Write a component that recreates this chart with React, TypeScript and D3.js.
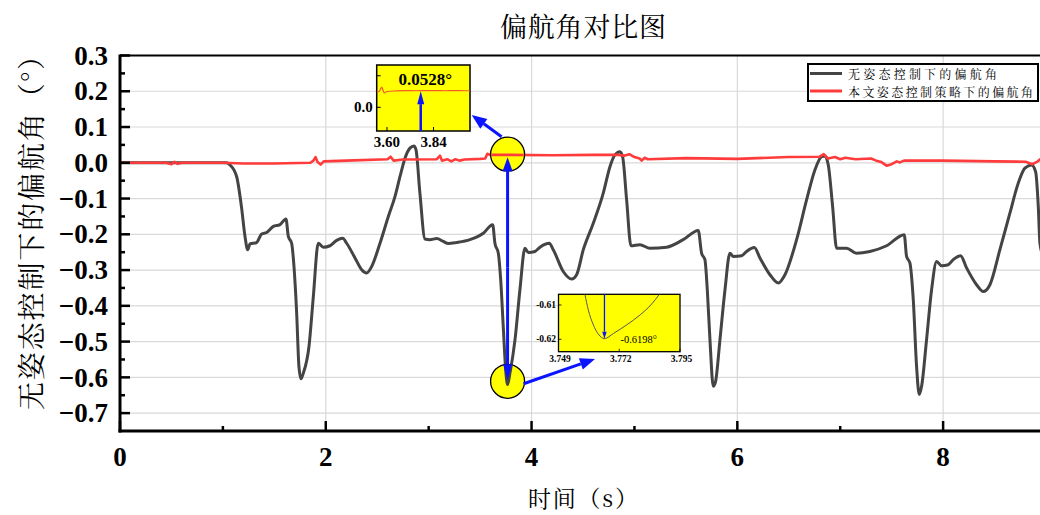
import React from 'react';
import * as d3 from 'd3';

const W = 1040;
const H = 515;
const PLOT = { left: 120, right: 1046, top: 55.5, bottom: 431 };

const title = '偏航角对比图';
const xLabel = '时间（s）';
const yLabel = '无姿态控制下的偏航角（°）';
const seriesNames = ['无姿态控制下的偏航角', '本文姿态控制策略下的偏航角'];

const xMajorTicks = [0, 2, 4, 6, 8];
const xMinorTicks = [1, 3, 5, 7];
const yMajorTicks = [0.3, 0.2, 0.1, 0.0, -0.1, -0.2, -0.3, -0.4, -0.5, -0.6, -0.7];
const yMinorTicks = [0.25, 0.15, 0.05, -0.05, -0.15, -0.25, -0.35, -0.45, -0.55, -0.65];

// 无姿态控制下的偏航角
const noControlT = [0, 1.037, 1.069, 1.134, 1.18, 1.215, 1.241, 1.263, 1.328, 1.377, 1.425, 1.49, 1.555, 1.613, 1.636, 1.668, 1.691, 1.717, 1.739, 1.759, 1.782, 1.837, 1.879, 1.927, 1.976, 2.041, 2.106, 2.164, 2.203, 2.284, 2.349, 2.397, 2.446, 2.527, 2.608, 2.673, 2.721, 2.77, 2.818, 2.857, 2.877, 2.915, 2.964, 3.013, 3.078, 3.142, 3.191, 3.272, 3.401, 3.531, 3.622, 3.644, 3.677, 3.7, 3.725, 3.751, 3.767, 3.79, 3.839, 3.887, 3.936, 3.968, 4.033, 4.082, 4.172, 4.211, 4.308, 4.39, 4.438, 4.503, 4.6, 4.697, 4.762, 4.81, 4.859, 4.885, 4.924, 4.966, 5.053, 5.151, 5.313, 5.474, 5.62, 5.653, 5.685, 5.708, 5.734, 5.766, 5.789, 5.831, 5.88, 5.928, 5.961, 6.042, 6.09, 6.165, 6.22, 6.317, 6.398, 6.463, 6.576, 6.673, 6.754, 6.819, 6.851, 6.884, 6.926, 6.965, 7.062, 7.159, 7.289, 7.451, 7.622, 7.645, 7.677, 7.71, 7.742, 7.768, 7.791, 7.839, 7.888, 7.937, 7.985, 8.05, 8.098, 8.17, 8.228, 8.325, 8.39, 8.455, 8.552, 8.649, 8.73, 8.795, 8.86, 8.899, 8.925, 8.941, 8.97];
const noControlV = [0, 0, -0.006, -0.039, -0.122, -0.206, -0.243, -0.227, -0.223, -0.199, -0.195, -0.178, -0.173, -0.157, -0.206, -0.225, -0.29, -0.42, -0.569, -0.604, -0.588, -0.513, -0.374, -0.225, -0.236, -0.232, -0.217, -0.211, -0.225, -0.266, -0.299, -0.308, -0.29, -0.225, -0.15, -0.094, -0.039, 0.013, 0.041, 0.047, 0.036, -0.085, -0.213, -0.215, -0.212, -0.22, -0.226, -0.223, -0.215, -0.197, -0.173, -0.225, -0.253, -0.327, -0.458, -0.588, -0.6198, -0.588, -0.495, -0.355, -0.239, -0.251, -0.248, -0.236, -0.225, -0.243, -0.304, -0.325, -0.313, -0.243, -0.169, -0.085, -0.011, 0.022, 0.031, 0.017, -0.104, -0.232, -0.229, -0.239, -0.236, -0.215, -0.189, -0.253, -0.271, -0.355, -0.495, -0.625, -0.611, -0.495, -0.355, -0.253, -0.262, -0.26, -0.248, -0.237, -0.266, -0.313, -0.336, -0.313, -0.215, -0.104, -0.02, 0.017, 0.019, -0.006, -0.122, -0.239, -0.239, -0.253, -0.248, -0.232, -0.201, -0.262, -0.28, -0.383, -0.569, -0.648, -0.625, -0.495, -0.355, -0.276, -0.288, -0.285, -0.271, -0.26, -0.294, -0.341, -0.36, -0.341, -0.243, -0.141, -0.057, -0.015, -0.006, -0.025, -0.122, -0.225, -0.26];

// 本文姿态控制策略下的偏航角
const controlT = [0, 0.45, 0.5, 0.53, 0.56, 0.6, 1.0, 1.2, 1.5, 1.85, 1.88, 1.9, 1.92, 1.95, 1.98, 2.2, 2.6, 2.63, 2.66, 2.75, 3.08, 3.11, 3.13, 3.18, 3.22, 3.26, 3.3, 3.35, 3.5, 3.55, 3.57, 3.6, 3.8, 4.2, 4.6, 4.85, 4.9, 4.95, 5.0, 5.05, 5.07, 5.1, 5.13, 5.5, 6.0, 6.5, 6.8, 6.84, 6.88, 6.95, 7.0, 7.05, 7.15, 7.3, 7.35, 7.4, 7.45, 7.5, 7.55, 7.58, 7.62, 8.0, 8.5, 8.8, 8.87, 8.92, 8.96, 9.0];
const controlV = [0, 0, -0.004, 0.003, -0.003, 0, 0, -0.002, -0.002, 0, 0.006, 0.016, 0.002, -0.005, 0.004, 0.006, 0.01, 0.017, 0.006, 0.009, 0.01, 0.02, 0.006, 0.01, 0.004, 0.01, 0.006, 0.009, 0.011, 0.012, 0.025, 0.022, 0.022, 0.021, 0.022, 0.022, 0.02, 0.024, 0.016, 0.012, 0.006, 0.014, 0.01, 0.013, 0.011, 0.016, 0.017, 0.024, 0.012, 0.016, 0.01, 0.014, 0.01, 0.012, 0.006, 0.002, -0.008, -0.004, 0.004, 0.001, 0.006, 0.006, 0.004, 0.003, -0.004, 0.004, 0.014, 0.02];

// inset 1 (controlled curve, zoomed)
const inset1T = [3.547, 3.56, 3.567, 3.573, 3.579, 3.586, 3.6, 3.65, 3.7, 3.75, 3.8, 3.85, 3.9, 3.95, 4.0, 4.028];
const inset1V = [0.049, 0.05, 0.058, 0.064, 0.055, 0.046, 0.05, 0.052, 0.053, 0.0525, 0.0528, 0.053, 0.0525, 0.053, 0.0525, 0.0525];
const inset1XTicks = [3.6, 3.84];
const inset1YTicks = [0.0, 0.1];
const inset1XLabels = ['3.60', '3.84'];
const inset1YLabels = ['0.0', ''];
const inset1Peak = { t: 3.774, v: 0.0528, label: '0.0528°' };

// inset 2 (uncontrolled minimum, zoomed)
const inset2T = [3.759, 3.7603, 3.7622, 3.7641, 3.7664, 3.7698, 3.7748, 3.7799, 3.7843, 3.7872];
const inset2V = [-0.6069, -0.6115, -0.6158, -0.6185, -0.6198, -0.6183, -0.6158, -0.6129, -0.6097, -0.6069];
const inset2XTicks = [3.749, 3.772, 3.795];
const inset2YTicks = [-0.61, -0.62];
const inset2Min = { t: 3.7664, v: -0.6198, label: '-0.6198°' };

// highlighted points on main chart
const markTop = { t: 3.767, v: 0.024 };
const markBottom = { t: 3.767, v: -0.611 };

const SERIF = '"Liberation Serif", "Times New Roman", serif';
const CJK = '"Noto Serif CJK SC", "Noto Sans CJK SC", sans-serif';
const BLUE = '#0a14ff';
const BLACK_LINE = '#444444';
const RED_LINE = '#ff3b3b';

function arrow(x1: number, y1: number, x2: number, y2: number, headLen: number, headHalf: number) {
  const dx = x2 - x1, dy = y2 - y1;
  const L = Math.hypot(dx, dy);
  const ux = dx / L, uy = dy / L;
  const bx = x2 - ux * headLen, by = y2 - uy * headLen;
  const px = -uy, py = ux;
  const head = `${x2},${y2} ${bx + px * headHalf},${by + py * headHalf} ${bx - px * headHalf},${by - py * headHalf}`;
  return { x1, y1, bx, by, head };
}

export default function App() {
  const x = d3.scaleLinear().domain([0, 9]).range([PLOT.left, PLOT.right]);
  const y = d3.scaleLinear().domain([-0.75, 0.3]).range([PLOT.bottom, PLOT.top]);
  const fmt = d3.format('.1f');

  const noControl = noControlT.map((t, i) => [t, noControlV[i]] as [number, number]);
  const control = controlT.map((t, i) => [t, controlV[i]] as [number, number]);

  const blackLine = d3.line<[number, number]>().x(d => x(d[0])).y(d => y(d[1])).curve(d3.curveMonotoneX);
  const redLine = d3.line<[number, number]>().x(d => x(d[0])).y(d => y(d[1]));

  // inset 1
  const i1 = { left: 376.7, right: 470, top: 65, bottom: 131 };
  const ix1 = d3.scaleLinear().domain([3.547, 4.028]).range([i1.left, i1.right]);
  const iy1 = d3.scaleLinear().domain([-0.075, 0.134]).range([i1.bottom, i1.top]);
  const inset1 = inset1T.map((t, i) => [t, inset1V[i]] as [number, number]);
  const inset1Line = d3.line<[number, number]>().x(d => ix1(d[0])).y(d => iy1(d[1])).curve(d3.curveMonotoneX);

  // inset 2
  const i2 = { left: 558.5, right: 680, top: 294.3, bottom: 351.7 };
  const ix2 = d3.scaleLinear().domain([3.749, 3.795]).range([i2.left, i2.right]);
  const iy2 = d3.scaleLinear().domain([-0.6236, -0.6069]).range([i2.bottom, i2.top]);
  const inset2 = inset2T.map((t, i) => [t, inset2V[i]] as [number, number]);
  const inset2Line = d3.line<[number, number]>().x(d => ix2(d[0])).y(d => iy2(d[1])).curve(d3.curveMonotoneX);

  const cTop = { x: x(markTop.t), y: y(markTop.v) };
  const cBot = { x: x(markBottom.t), y: y(markBottom.v) };

  const aUp = arrow(cTop.x, (cTop.y + cBot.y) / 2, cTop.x, cTop.y + 3, 14, 5);
  const aDown = arrow(cBot.x, (cTop.y + cBot.y) / 2, cBot.x, cBot.y - 1, 16, 4.5);
  const a1 = arrow(cTop.x - 6, cTop.y - 17.5, i1.right + 1.7, i1.top + 50, 15, 6);
  const a2 = arrow(cBot.x + 16, cBot.y + 2.5, i2.left + 36.5, i2.bottom + 7.3, 15, 6);
  const aIn1 = arrow(ix1(inset1Peak.t), i1.bottom, ix1(inset1Peak.t), iy1(inset1Peak.v) + 0.5, 13, 3.5);
  const aIn2 = arrow(ix2(inset2Min.t), i2.top, ix2(inset2Min.t), iy2(inset2Min.v), 7, 2.2);

  return (
    <svg width={W} height={H} viewBox={`0 0 ${W} ${H}`}
      style={{ position: 'absolute', left: 0, top: 0, display: 'block', background: '#fff' }}>
      <defs>
        <clipPath id="plotClip">
          <rect x={PLOT.left} y={PLOT.top} width={PLOT.right - PLOT.left} height={PLOT.bottom - PLOT.top} />
        </clipPath>
        <clipPath id="in1Clip">
          <rect x={i1.left} y={i1.top} width={i1.right - i1.left} height={i1.bottom - i1.top} />
        </clipPath>
        <clipPath id="in2Clip">
          <rect x={i2.left} y={i2.top} width={i2.right - i2.left} height={i2.bottom - i2.top} />
        </clipPath>
        <clipPath id="circClip">
          <circle cx={cTop.x} cy={cTop.y} r={16.3} />
          <circle cx={cBot.x} cy={cBot.y} r={16.3} />
        </clipPath>
      </defs>
      <rect x={0} y={0} width={W} height={H} fill="#fff" />

      {/* title */}
      <text x={(PLOT.left + PLOT.right) / 2} y={25} textAnchor="middle" dominantBaseline="central"
        fontFamily={CJK} fontSize={27} textLength={166} lengthAdjust="spacing" fill="#000">{title}</text>

      {/* grid */}
      <g stroke="#d9d9d9" strokeWidth={1.2}>
        {yMajorTicks.filter(v => v < 0.3).map(v => (
          <line key={'gy' + v} x1={PLOT.left} x2={PLOT.right} y1={y(v)} y2={y(v)} />
        ))}
        {xMajorTicks.filter(v => v > 0).map(v => (
          <line key={'gx' + v} x1={x(v)} x2={x(v)} y1={PLOT.top} y2={PLOT.bottom} />
        ))}
      </g>

      {/* series */}
      <g clipPath="url(#plotClip)">
        <path d={blackLine(noControl) || ''} fill="none" stroke={BLACK_LINE} strokeWidth={3} strokeLinejoin="round" />
        <path d={redLine(control) || ''} fill="none" stroke={RED_LINE} strokeWidth={2.6} strokeLinejoin="round" />
      </g>

      {/* axes frame */}
      <line x1={PLOT.left} x2={PLOT.right} y1={PLOT.top} y2={PLOT.top} stroke="#000" strokeWidth={2} />
      <line x1={PLOT.left} x2={PLOT.left} y1={PLOT.top - 1} y2={PLOT.bottom + 1.5} stroke="#000" strokeWidth={3} />
      <line x1={PLOT.left - 1.5} x2={PLOT.right} y1={PLOT.bottom} y2={PLOT.bottom} stroke="#000" strokeWidth={3} />

      {/* ticks */}
      <g stroke="#000" strokeWidth={2.5}>
        {yMajorTicks.map(v => (
          <line key={'ty' + v} x1={PLOT.left} x2={PLOT.left + 10} y1={y(v)} y2={y(v)} />
        ))}
        {yMinorTicks.map(v => (
          <line key={'tym' + v} x1={PLOT.left} x2={PLOT.left + 5} y1={y(v)} y2={y(v)} />
        ))}
        {xMajorTicks.map(v => (
          <line key={'tx' + v} x1={x(v)} x2={x(v)} y1={PLOT.bottom} y2={PLOT.bottom - 10} />
        ))}
        {xMinorTicks.map(v => (
          <line key={'txm' + v} x1={x(v)} x2={x(v)} y1={PLOT.bottom} y2={PLOT.bottom - 5} />
        ))}
      </g>
      <g fontFamily={SERIF} fontWeight="bold" fontSize={27} fill="#000">
        {yMajorTicks.map(v => (
          <text key={'ly' + v} x={108} y={y(v)} dy="0.34em" textAnchor="end">{fmt(v)}</text>
        ))}
        {xMajorTicks.map(v => (
          <text key={'lx' + v} x={x(v)} y={457} dy="0.34em" textAnchor="middle">{String(v)}</text>
        ))}
      </g>

      {/* axis titles */}
      <text x={(PLOT.left + PLOT.right) / 2} y={497} textAnchor="middle" dominantBaseline="central"
        fontFamily={CJK} fontSize={23} textLength={110} lengthAdjust="spacing" fill="#000">{xLabel}</text>
      <text transform={`translate(30,226) rotate(-90)`} textAnchor="middle" dominantBaseline="central"
        fontFamily={CJK} fontSize={28} textLength={368} lengthAdjust="spacing" fill="#000">{yLabel}</text>

      {/* legend */}
      <g>
        <rect x={808} y={64} width={230} height={37} fill="#fff" stroke="#000" strokeWidth={2} />
        <line x1={810} x2={842} y1={73.5} y2={73.5} stroke={BLACK_LINE} strokeWidth={3} />
        <line x1={810} x2={842} y1={91} y2={91} stroke={RED_LINE} strokeWidth={3} />
        <text x={848} y={73.5} dominantBaseline="central" fontFamily={CJK} fontSize={12} textLength={149} lengthAdjust="spacing" fill="#000">{seriesNames[0]}</text>
        <text x={848} y={91} dominantBaseline="central" fontFamily={CJK} fontSize={12} textLength={185} lengthAdjust="spacing" fill="#000">{seriesNames[1]}</text>
      </g>

      {/* marked circles */}
      <circle cx={cTop.x} cy={cTop.y} r={17} fill="#ffff00" stroke="#000" strokeWidth={1.3} />
      <circle cx={cBot.x} cy={cBot.y} r={17} fill="#ffff00" stroke="#000" strokeWidth={1.3} />
      <g clipPath="url(#plotClip)">
        <g clipPath="url(#circClip)">
          <path d={blackLine(noControl) || ''} fill="none" stroke={BLACK_LINE} strokeWidth={3} />
          <path d={redLine(control) || ''} fill="none" stroke={RED_LINE} strokeWidth={2.6} />
        </g>
      </g>

      {/* blue arrows */}
      <g stroke={BLUE} fill={BLUE}>
        <line x1={aUp.x1} y1={aUp.y1} x2={aUp.bx} y2={aUp.by} strokeWidth={3} />
        <polygon points={aUp.head} stroke="none" />
        <line x1={aDown.x1} y1={aDown.y1} x2={aDown.bx} y2={aDown.by} strokeWidth={3} />
        <polygon points={aDown.head} stroke="none" />
        <line x1={a1.x1} y1={a1.y1} x2={a1.bx} y2={a1.by} strokeWidth={3} />
        <polygon points={a1.head} stroke="none" />
        <line x1={a2.x1} y1={a2.y1} x2={a2.bx} y2={a2.by} strokeWidth={3} />
        <polygon points={a2.head} stroke="none" />
      </g>

      {/* inset 1 */}
      <g>
        <rect x={i1.left} y={i1.top} width={i1.right - i1.left} height={i1.bottom - i1.top} fill="#ffff00" stroke="#000" strokeWidth={1.5} />
        <g stroke="#000" strokeWidth={1}>
          {inset1XTicks.map(v => (
            <line key={'i1x' + v} x1={ix1(v)} x2={ix1(v)} y1={i1.bottom} y2={i1.bottom - 4} />
          ))}
          {inset1YTicks.map(v => (
            <line key={'i1y' + v} x1={i1.left} x2={i1.left + 4} y1={iy1(v)} y2={iy1(v)} />
          ))}
        </g>
        <path d={inset1Line(inset1) || ''} clipPath="url(#in1Clip)" fill="none" stroke="#f25a2a" strokeWidth={1.2} />
        <line x1={aIn1.x1} y1={aIn1.y1} x2={aIn1.bx} y2={aIn1.by} stroke={BLUE} strokeWidth={2.5} />
        <polygon points={aIn1.head} fill={BLUE} />
        <text x={(i1.left + i1.right) / 2 + 2} y={79} textAnchor="middle" dominantBaseline="central"
          fontFamily={SERIF} fontWeight="bold" fontSize={17} fill="#000">{inset1Peak.label}</text>
        <g fontFamily={SERIF} fontWeight="bold" fontSize={15} fill="#000">
          {inset1XTicks.map((v, i) => (
            <text key={'i1lx' + v} x={ix1(v)} y={142} textAnchor="middle" dominantBaseline="central">{inset1XLabels[i]}</text>
          ))}
          {inset1YTicks.map((v, i) => inset1YLabels[i] ? (
            <text key={'i1ly' + v} x={i1.left - 4} y={iy1(v)} textAnchor="end" dominantBaseline="central">{inset1YLabels[i]}</text>
          ) : null)}
        </g>
      </g>

      {/* inset 2 */}
      <g>
        <rect x={i2.left} y={i2.top} width={i2.right - i2.left} height={i2.bottom - i2.top} fill="#ffff00" stroke="#000" strokeWidth={1.3} />
        <g stroke="#000" strokeWidth={0.8}>
          {inset2XTicks.map(v => (
            <line key={'i2x' + v} x1={ix2(v)} x2={ix2(v)} y1={i2.bottom} y2={i2.bottom - 3} />
          ))}
          {inset2YTicks.map(v => (
            <line key={'i2y' + v} x1={i2.left} x2={i2.left + 3} y1={iy2(v)} y2={iy2(v)} />
          ))}
        </g>
        <path d={inset2Line(inset2) || ''} clipPath="url(#in2Clip)" fill="none" stroke="#555" strokeWidth={1} />
        <line x1={aIn2.x1} y1={aIn2.y1} x2={aIn2.bx} y2={aIn2.by} stroke={BLUE} strokeWidth={1.3} />
        <polygon points={aIn2.head} fill={BLUE} />
        <text x={ix2(inset2Min.t) + 16} y={iy2(inset2Min.v) + 1} dominantBaseline="central"
          fontFamily={SERIF} fontSize={10.5} fill="#000">{inset2Min.label}</text>
        <g fontFamily={SERIF} fontWeight="bold" fontSize={9.5} fill="#000">
          {inset2XTicks.map(v => (
            <text key={'i2lx' + v} x={ix2(v) + 1.5} y={359} textAnchor="middle" dominantBaseline="central">{String(v)}</text>
          ))}
          {inset2YTicks.map(v => (
            <text key={'i2ly' + v} x={i2.left - 2.5} y={iy2(v)} textAnchor="end" dominantBaseline="central">{String(v)}</text>
          ))}
        </g>
      </g>
    </svg>
  );
}
